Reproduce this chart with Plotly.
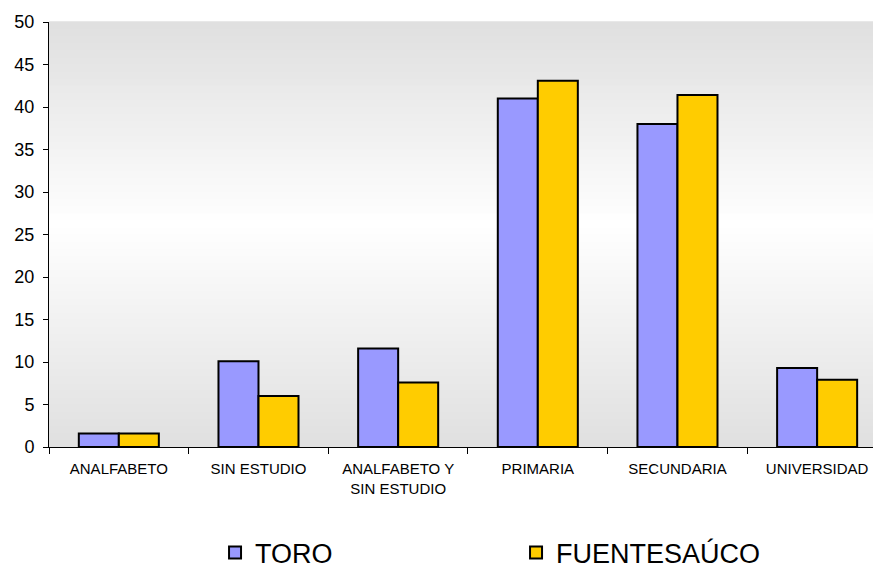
import plotly.graph_objects as go

categories = ["ANALFABETO", "SIN ESTUDIO", "ANALFABETO Y<br>SIN ESTUDIO", "PRIMARIA", "SECUNDARIA", "UNIVERSIDAD"]
toro = [1.6, 10.1, 11.6, 41.0, 38.0, 9.3]
fuentesauco = [1.6, 6.0, 7.6, 43.1, 41.4, 7.9]
y_ticks = [0, 5, 10, 15, 20, 25, 30, 35, 40, 45, 50]

FONT = "Liberation Sans, Arial, sans-serif"

fig = go.Figure()
fig.add_trace(go.Bar(x=categories, y=toro, name="TORO",
                     marker=dict(color="#9999FF", line=dict(color="black", width=2))))
fig.add_trace(go.Bar(x=categories, y=fuentesauco, name="FUENTESAÚCO",
                     marker=dict(color="#FFCC00", line=dict(color="black", width=2))))

# vertical gradient background (gray -> white -> gray)
shapes = []
n = 60
top = (0xDF, 0xDF, 0xDF)
mid = (0xFF, 0xFF, 0xFF)
bot = (0xE0, 0xE0, 0xE0)
midpos = 0.52
for i in range(n):
    y0 = i / n
    y1 = (i + 1) / n
    yc = (y0 + y1) / 2
    if yc < midpos:
        t = yc / midpos
        c = [round(bot[k] + (mid[k] - bot[k]) * t) for k in range(3)]
    else:
        t = (yc - midpos) / (1 - midpos)
        c = [round(mid[k] + (top[k] - mid[k]) * t) for k in range(3)]
    shapes.append(dict(type="rect", xref="paper", yref="paper", x0=0, x1=1,
                       y0=y0, y1=y1 + 0.002, fillcolor="rgb(%d,%d,%d)" % tuple(c),
                       line=dict(width=0), layer="below"))

fig.update_layout(
    width=873, height=584,
    margin=dict(l=49, r=0, t=22, b=137, autoexpand=False),
    paper_bgcolor="white", plot_bgcolor="white",
    font=dict(family=FONT, color="black"),
    barmode="group", bargap=0.427, bargroupgap=0,
    shapes=shapes,
    showlegend=True,
    legend=dict(orientation="h", x=0.2015, xanchor="left", y=-0.2494, yanchor="middle",
                font=dict(size=27, family=FONT, color="black"),
                entrywidth=256, entrywidthmode="pixels", borderwidth=0,
                bgcolor="rgba(0,0,0,0)"),
)
fig.update_xaxes(type="category", range=[-0.5, 5.4], tickson="boundaries",
                 ticks="outside", ticklen=6, tickcolor="black", tickwidth=1,
                 showline=True, linecolor="black", linewidth=1, ticklabelstandoff=8,
                 showgrid=False, tickfont=dict(size=15, family=FONT, color="black"))
fig.update_yaxes(range=[0, 50], tickvals=y_ticks, ticks="outside", ticklen=5,
                 tickcolor="black", tickwidth=1, showline=True, linecolor="black",
                 linewidth=1, showgrid=False, zeroline=False, ticklabelstandoff=5,
                 tickfont=dict(size=18, family=FONT, color="black"))

fig.write_html("out.html", config={"displayModeBar": False},
               post_script="document.body.style.margin='0';document.body.style.overflow='hidden';")
